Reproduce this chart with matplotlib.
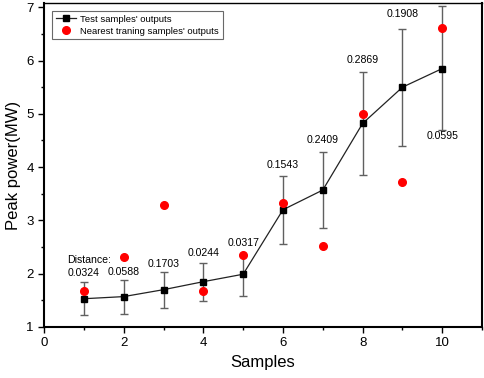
import numpy as np
import matplotlib
matplotlib.use("Agg")
import matplotlib.pyplot as plt
from matplotlib.ticker import MultipleLocator

plt.rcParams['font.family'] = ['Liberation Sans', 'DejaVu Sans']

samples = [1, 2, 3, 4, 5, 6, 7, 8, 9, 10]
test_out = [1.53, 1.57, 1.70, 1.85, 1.99, 3.20, 3.57, 4.82, 5.50, 5.85]
err_hi = [1.84, 1.89, 2.03, 2.21, 2.36, 3.83, 4.29, 5.79, 6.60, 7.02]
err_lo = [1.23, 1.25, 1.36, 1.48, 1.58, 2.56, 2.85, 3.86, 4.40, 4.70]
nearest = [1.67, 2.32, 3.28, 1.67, 2.35, 3.32, 2.52, 4.99, 3.73, 6.61]
dist_labels = ['0.0324', '0.0588', '0.1703', '0.0244', '0.0317',
               '0.1543', '0.2409', '0.2869', '0.1908', '0.0595']
label_y = [2.02, 2.04, 2.19, 2.38, 2.57, 4.04, 4.50, 6.02, 6.87, 4.59]

test_out = np.array(test_out)
yerr = [test_out - np.array(err_lo), np.array(err_hi) - test_out]

fig = plt.figure(figsize=(4.84, 3.78), dpi=100)
ax = fig.add_axes([0.091, 0.135, 0.905, 0.857])

ax.errorbar(samples, test_out, yerr=yerr, fmt='none', ecolor='#606060',
            elinewidth=1, capsize=3, capthick=1, zorder=2)
ax.plot(samples, test_out, color='#222222', lw=0.9, marker='s', ms=5,
        mfc='black', mec='black', label="Test samples' outputs", zorder=3)
ax.plot(samples, nearest, 'o', color='red', ms=5.5, ls='none',
        label="Nearest traning samples' outputs", zorder=4)

for x, y, s in zip(samples, label_y, dist_labels):
    ax.text(x, y, s, ha='center', va='center', fontsize=7.6)
ax.text(0.57, 2.26, 'Distance:', ha='left', va='center', fontsize=7.6)

ax.set_xlim(0, 11)
ax.set_ylim(1, 7.08)
ax.xaxis.set_major_locator(MultipleLocator(2))
ax.xaxis.set_minor_locator(MultipleLocator(1))
ax.yaxis.set_major_locator(MultipleLocator(1))
ax.yaxis.set_minor_locator(MultipleLocator(0.5))
ax.tick_params(which='both', direction='out', labelsize=9.5, width=1)
ax.tick_params(which='major', length=4)
ax.tick_params(which='minor', length=2.5)
for side in ['left', 'bottom']:
    ax.spines[side].set_linewidth(1.5)
ax.spines['top'].set_linewidth(1)
ax.spines['right'].set_linewidth(1.5)

ax.set_xlabel('Samples', fontsize=12)
ax.set_ylabel('Peak power(MW)', fontsize=12)

leg = ax.legend(loc='upper left', fontsize=6.8, frameon=True, fancybox=False,
                edgecolor='#444444', borderpad=0.4, labelspacing=0.3,
                handlelength=2.2, handletextpad=0.4,
                bbox_to_anchor=(0.007, 0.99))
leg.get_frame().set_linewidth(0.8)

fig.savefig('out.png', dpi=100)
